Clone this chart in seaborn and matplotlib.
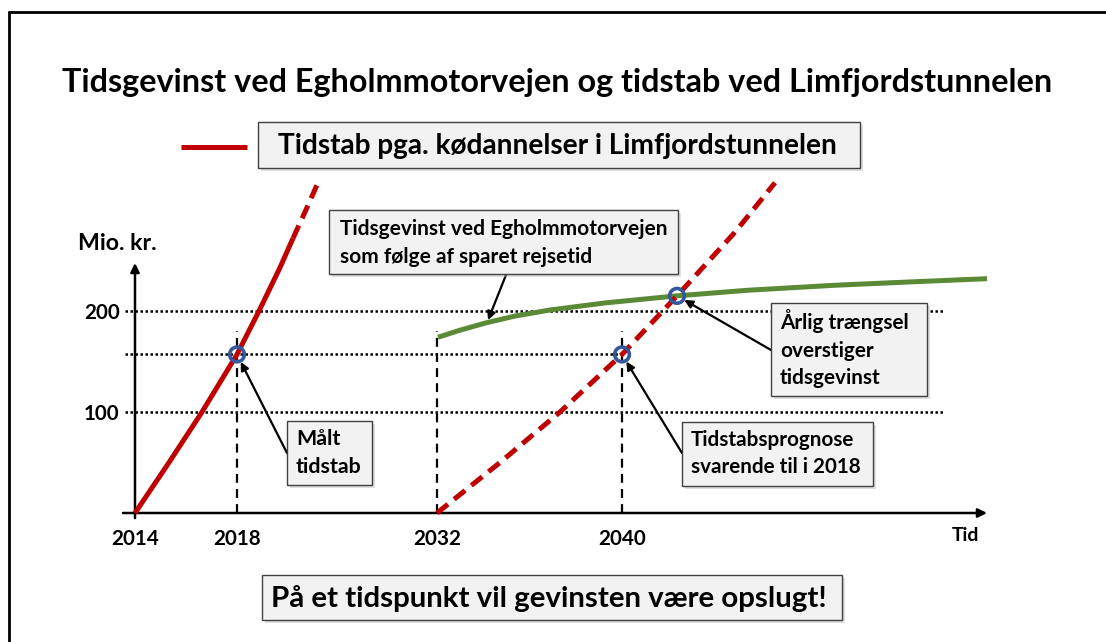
import numpy as np
import pandas as pd
import matplotlib
matplotlib.use("Agg")
import matplotlib.pyplot as plt
import matplotlib.transforms as mtransforms
from matplotlib.patches import Rectangle
from matplotlib.lines import Line2D
import seaborn as sns

# ---------------- data (schematic units) ----------------
tick_pos = [0, 102, 302, 487]
tick_labels = ["2014", "2018", "2032", "2040"]
y_ticks = [100, 200]
y_tick_labels = ["100", "200"]

measured_x = [0, 34, 67, 102, 124, 145, 158]
measured_y = [0, 50, 100, 157, 200, 243, 272]
measured_ext_x = [158, 170, 183]
measured_ext_y = [272, 298, 327]

forecast_x = [302, 365, 425, 487, 542, 600, 640]
forecast_y = [0, 50, 100, 157, 215, 278, 327]

gain_x = [303, 325, 352, 380, 415, 470, 542, 612, 700, 780, 852]
gain_y = [174, 181, 188.5, 195, 201, 208, 215, 220.5, 225.5, 229, 232]

marker_x = [102, 487, 542]
marker_y = [157, 157, 215]

ref_levels = [100, 157, 200]
ref_ends = [810, 487, 810]
guide_x = [102, 302, 487]
guide_top = 180

title = "Tidsgevinst ved Egholmmotorvejen og tidstab ved Limfjordstunnelen"
legend_label = "Tidstab pga. kødannelser i Limfjordstunnelen"
gain_note = ["Tidsgevinst ved Egholmmotorvejen", "som følge af sparet rejsetid"]
measured_note = ["Målt", "tidstab"]
cross_note = ["Årlig trængsel", "overstiger", "tidsgevinst"]
forecast_note = ["Tidstabsprognose", "svarende til i 2018"]
bottom_note = "På et tidspunkt vil gevinsten være opslugt!"
y_label = "Mio. kr."
x_label = "Tid"

RED = "#c00000"
GREEN = "#5a8a35"
BLUE = "#34589a"
BOXFC = "#f2f2f2"
BOXEC = "#404040"

# ---------------- figure ----------------
sns.set_style("white")
plt.rcParams["font.family"] = ["Lato", "DejaVu Sans"]
plt.rcParams["font.weight"] = "bold"

W, H = 1106, 642
fig = plt.figure(figsize=(W / 100, H / 100), dpi=100)
T = mtransforms.Affine2D().scale(1 / W, -1 / H).translate(0, 1) + fig.transFigure

ax = fig.add_axes([120 / W, 1 - 521 / H, 870 / W, 256 / H])
ax.set_xlim(-15, 855)
ax.set_ylim(-8 / 1.01, 248 / 1.01)
for s in ax.spines.values():
    s.set_visible(False)
ax.spines["bottom"].set_position(("data", 0))
ax.spines["left"].set_position(("data", 0))
ax.patch.set_alpha(0)

# reference dotted lines
for lvl, end in zip(ref_levels, ref_ends):
    ax.plot([-10, end], [lvl, lvl], color="black", lw=1.8,
            linestyle=(0, (1, 1)), zorder=1, dash_capstyle="butt")
# vertical dashed guides
for gx in guide_x:
    ax.plot([gx, gx], [0, guide_top], color="black", lw=1.6,
            linestyle=(0, (4, 2.8)), zorder=1)

# axes arrows
arrow_kw = dict(arrowstyle="-|>", mutation_scale=13, lw=1.8, color="black",
                shrinkA=0, shrinkB=0)
ax.annotate("", xy=(852, 0), xytext=(-12, 0), arrowprops=arrow_kw,
            annotation_clip=False)
ax.annotate("", xy=(0, 247.5), xytext=(0, -5), arrowprops=arrow_kw,
            annotation_clip=False)

# curves
sns.lineplot(x=measured_x, y=measured_y, ax=ax, color=RED, lw=3.6,
             sort=False, estimator=None, clip_on=False, zorder=3,
             solid_capstyle="butt", solid_joinstyle="round")
sns.lineplot(x=measured_ext_x, y=measured_ext_y, ax=ax, color=RED, lw=3.6,
             sort=False, estimator=None, clip_on=False, zorder=3,
             linestyle=(0, (2.8, 1.6)))
sns.lineplot(x=forecast_x, y=forecast_y, ax=ax, color=RED, lw=3.6,
             sort=False, estimator=None, clip_on=False, zorder=3,
             linestyle=(0, (2.8, 1.6)))
sns.lineplot(x=gain_x, y=gain_y, ax=ax, color=GREEN, lw=3.6,
             sort=False, estimator=None, clip_on=False, zorder=2,
             solid_capstyle="butt", solid_joinstyle="round")

sns.scatterplot(x=marker_x, y=marker_y, ax=ax, s=112, marker="o",
                zorder=5, clip_on=False, linewidth=2.6)
coll = ax.collections[-1]
coll.set_facecolor("none")
coll.set_edgecolor(BLUE)
coll.set_linewidth(2.6)

# ticks
ax.set_xticks(tick_pos)
ax.set_yticks(y_ticks)
ax.tick_params(axis="x", direction="inout", length=12, width=1.8, pad=17,
               colors="black")
ax.tick_params(axis="y", length=0, pad=11, colors="black")

fig.canvas.draw()
R = fig.canvas.get_renderer()


def fit_size(s, width, base=20):
    t = fig.text(0, 0, s, fontsize=base, fontweight="bold")
    w = t.get_window_extent(R).width
    t.remove()
    return base * width / w


tick_fs = fit_size("200", 36)
ax.set_xticklabels(tick_labels, fontsize=tick_fs, fontweight="bold",
                   color="black")
ax.set_yticklabels(y_tick_labels, fontsize=tick_fs, fontweight="bold",
                   color="black")
for t in ax.get_xticklabels():
    t.set_va("baseline")


def box(x0, y0, x1, y1, shadow=True):
    if shadow:
        fig.add_artist(Rectangle((x0 + 3, y0 + 3), x1 - x0, y1 - y0,
                                 transform=T, fc="#b8b8b8", ec="none",
                                 alpha=0.45, zorder=2))
    fig.add_artist(Rectangle((x0, y0), x1 - x0, y1 - y0, transform=T,
                             fc=BOXFC, ec=BOXEC, lw=1.0, zorder=3))


def lines_text(lines, x, baselines, width, ha="left"):
    fs = min(fit_size(l, width) for l in lines)
    for l, b in zip(lines, baselines):
        fig.text(x, b, l, transform=T, ha=ha, va="baseline", fontsize=fs,
                 fontweight="bold", color="black", zorder=4)


# border (cropped frame)
fig.add_artist(Line2D([9, W], [12, 12], transform=T, color="black", lw=2))
fig.add_artist(Line2D([9, 9], [12, H], transform=T, color="black", lw=2))

# title
lines_text([title], 557, [92], 990, ha="center")

# legend
fig.add_artist(Line2D([181, 247], [147, 147], transform=T, color=RED,
                      lw=3.6, solid_capstyle="butt"))
box(258, 122, 860, 168)
lines_text([legend_label], 278, [154], 560)

# annotation boxes
box(329, 210, 678, 274)
lines_text(gain_note, 340, [235, 263], 327)

box(287, 421, 372, 485)
lines_text(measured_note, 296, [445, 473], 66)

box(771, 303, 927, 396)
lines_text(cross_note, 780, [329, 357, 384], 129)

box(682, 422, 873, 486)
lines_text(forecast_note, 691, [446, 473], 170)

box(262, 575, 842, 620)
lines_text([bottom_note], 271, [607], 557)

# axis labels
lines_text([y_label], 78, [250], 79)
lines_text([x_label], 952, [541], 27.6)

# callout arrows
call_kw = dict(arrowstyle="-|>", mutation_scale=12, lw=1.6, color="black",
               shrinkA=0)
ax.annotate("", xy=(marker_x[0], marker_y[0]), xytext=(287, 453),
            textcoords=T, arrowprops=dict(call_kw, shrinkB=6),
            annotation_clip=False)
ax.annotate("", xy=(marker_x[1], marker_y[1]), xytext=(682, 453),
            textcoords=T, arrowprops=dict(call_kw, shrinkB=6),
            annotation_clip=False)
ax.annotate("", xy=(marker_x[2], marker_y[2]), xytext=(771, 350),
            textcoords=T, arrowprops=dict(call_kw, shrinkB=6),
            annotation_clip=False)
ax.annotate("", xy=(gain_x[2], gain_y[2]), xytext=(506, 275),
            textcoords=T, arrowprops=dict(call_kw, shrinkB=2),
            annotation_clip=False)

fig.savefig("out.png", dpi=100)
